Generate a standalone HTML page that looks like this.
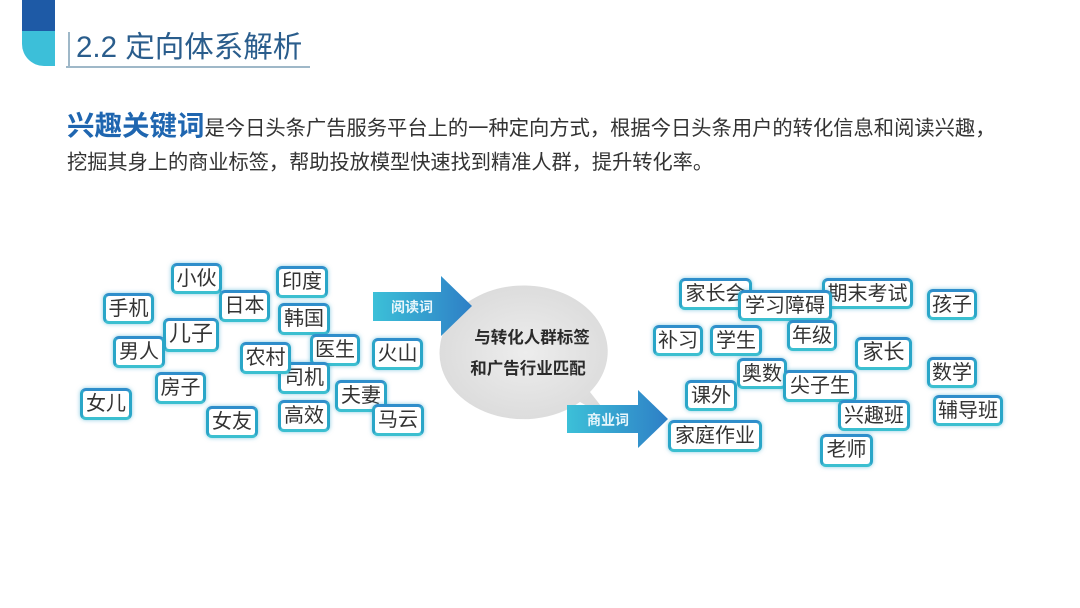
<!DOCTYPE html>
<html><head><meta charset="utf-8">
<style>
html,body{margin:0;padding:0;}
body{width:1080px;height:608px;background:#fff;position:relative;overflow:hidden;font-family:"Liberation Sans","Noto Sans CJK SC",sans-serif;}
.a{position:absolute;}
.t{position:absolute;box-sizing:border-box;border:3px solid #2aa6c8;border-radius:6px;background:#fff;color:#333;font-size:20px;line-height:26px;text-align:center;box-shadow:0 0 4px rgba(40,160,200,.55);white-space:nowrap;border-top-color:#2f8ecb;border-bottom-color:#3bbfd0;}
</style></head><body>
<div class="a" style="left:22px;top:0;width:33px;height:31px;background:#1e5aa6"></div>
<div class="a" style="left:22px;top:31px;width:33px;height:35px;background:#3cbfd9;border-bottom-left-radius:22px"></div>
<div class="a" style="left:68px;top:32px;width:2px;height:34px;background:#9fb8c8"></div>
<div class="a" style="left:66px;top:66px;width:244px;height:2px;background:#9fb8c8"></div>
<div class="a" style="left:76px;top:28px;font-size:29.5px;line-height:40px;color:#2a5d8c">2.2 定向体系解析</div>

<div class="a" style="left:67px;top:108px;white-space:nowrap;color:#333;font-size:20.3px;line-height:36px"><b style="font-size:27.5px;color:#1f66b0;">兴趣关键词</b>是今日头条广告服务平台上的一种定向方式，根据今日头条用户的转化信息和阅读兴趣，</div>
<div class="a" style="left:67px;top:148px;white-space:nowrap;color:#333;font-size:20.2px;line-height:30px">挖掘其身上的商业标签，帮助投放模型快速找到精准人群，提升转化率。</div>

<svg class="a" style="left:0;top:0" width="1080" height="608">
<defs>
<linearGradient id="g1" x1="0" x2="1"><stop offset="0" stop-color="#3cc0d8"/><stop offset="1" stop-color="#2e7fc6"/></linearGradient>
<radialGradient id="g2" cx=".5" cy=".5" r=".6"><stop offset="0" stop-color="#ededed"/><stop offset="1" stop-color="#d9d9d9"/></radialGradient>
</defs>
<path d="M440,346 A84,66 0 1 1 590,392 L612,420 L580,402 A84,66 0 0 1 440,346Z" fill="url(#g2)"/>
<polygon points="373,292 441,292 441,276 472,306 441,336 441,321 373,321" fill="url(#g1)"/>
<polygon points="567,405 638,405 638,390 668,419 638,448 638,433 567,433" fill="url(#g1)"/>
<text x="391" y="312" font-size="14" font-weight="bold" fill="#e8f6fb" font-family="Liberation Sans,Noto Sans CJK SC,sans-serif">阅读词</text>
<text x="587" y="425" font-size="14" font-weight="bold" fill="#e8f6fb" font-family="Liberation Sans,Noto Sans CJK SC,sans-serif">商业词</text>
<text x="532" y="343" text-anchor="middle" font-size="16.5" font-weight="bold" fill="#2a2a2a" font-family="Liberation Sans,Noto Sans CJK SC,sans-serif">与转化人群标签</text>
<text x="528" y="374" text-anchor="middle" font-size="16.5" font-weight="bold" fill="#2a2a2a" font-family="Liberation Sans,Noto Sans CJK SC,sans-serif">和广告行业匹配</text>
</svg>

<div class="t" style="left:171px;top:263px;width:51px;height:31px">小伙</div>
<div class="t" style="left:103px;top:293px;width:51px;height:31px">手机</div>
<div class="t" style="left:219px;top:290px;width:51px;height:32px">日本</div>
<div class="t" style="left:276px;top:266px;width:52px;height:32px">印度</div>
<div class="t" style="left:163px;top:318px;width:56px;height:34px;font-size:22px">儿子</div>
<div class="t" style="left:278px;top:303px;width:52px;height:32px">韩国</div>
<div class="t" style="left:113px;top:336px;width:52px;height:32px">男人</div>
<div class="t" style="left:310px;top:334px;width:50px;height:32px">医生</div>
<div class="t" style="left:278px;top:362px;width:52px;height:32px">司机</div>
<div class="t" style="left:240px;top:342px;width:51px;height:32px">农村</div>
<div class="t" style="left:372px;top:338px;width:51px;height:32px">火山</div>
<div class="t" style="left:155px;top:372px;width:51px;height:32px">房子</div>
<div class="t" style="left:335px;top:380px;width:52px;height:32px">夫妻</div>
<div class="t" style="left:80px;top:388px;width:52px;height:32px">女儿</div>
<div class="t" style="left:206px;top:406px;width:52px;height:32px">女友</div>
<div class="t" style="left:278px;top:400px;width:52px;height:32px">高效</div>
<div class="t" style="left:372px;top:404px;width:52px;height:32px">马云</div>

<div class="t" style="left:679px;top:278px;width:73px;height:32px">家长会</div>
<div class="t" style="left:822px;top:278px;width:91px;height:31px">期末考试</div>
<div class="t" style="left:738px;top:290px;width:94px;height:31px">学习障碍</div>
<div class="t" style="left:927px;top:289px;width:50px;height:31px">孩子</div>
<div class="t" style="left:653px;top:325px;width:50px;height:31px">补习</div>
<div class="t" style="left:710px;top:325px;width:52px;height:31px">学生</div>
<div class="t" style="left:787px;top:320px;width:50px;height:31px">年级</div>
<div class="t" style="left:855px;top:337px;width:57px;height:33px;font-size:21px">家长</div>
<div class="t" style="left:927px;top:357px;width:50px;height:31px">数学</div>
<div class="t" style="left:685px;top:380px;width:52px;height:31px">课外</div>
<div class="t" style="left:737px;top:358px;width:50px;height:31px">奥数</div>
<div class="t" style="left:783px;top:370px;width:74px;height:32px">尖子生</div>
<div class="t" style="left:838px;top:400px;width:72px;height:31px">兴趣班</div>
<div class="t" style="left:933px;top:395px;width:70px;height:31px">辅导班</div>
<div class="t" style="left:668px;top:420px;width:94px;height:32px">家庭作业</div>
<div class="t" style="left:820px;top:434px;width:53px;height:33px">老师</div>
</body></html>
